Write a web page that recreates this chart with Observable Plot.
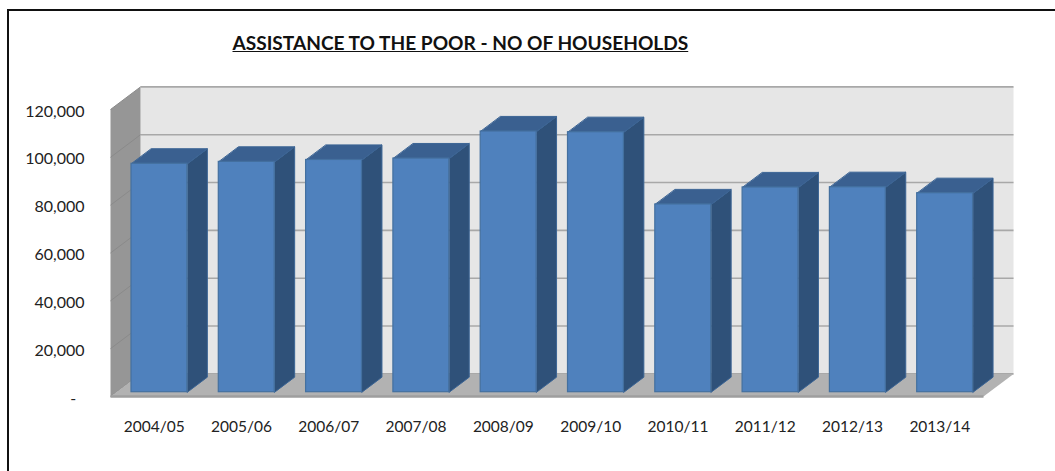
<!DOCTYPE html>
<html>
<head>
<meta charset="utf-8">
<script src="https://cdn.jsdelivr.net/npm/d3@7"></script>
<script src="https://cdn.jsdelivr.net/npm/@observablehq/plot@0.6"></script>
<style>
  html, body { margin: 0; padding: 0; background: #fff; overflow: hidden; }
  #page { position: relative; width: 1055px; height: 471px; overflow: hidden; font-family: Lato, sans-serif; }
  #border { position: absolute; left: 7px; top: 9px; width: 1060px; height: 480px;
            border-left: 2px solid #111; border-top: 2px solid #111; }
  #title { position: relative; height: 62px; box-sizing: border-box; padding: 32px 0 0 232.5px;
           font: bold 19.1px/22px Lato, sans-serif; color: #111; text-decoration: underline; white-space: pre; }
  #chart { position: relative; display: block; }
  #chart svg { display: block; overflow: visible; }
</style>
</head>
<body>
<div id="page">
  <div id="border"></div>
  <div id="title">ASSISTANCE TO THE POOR - NO OF HOUSEHOLDS</div>
  <div id="chart"></div>
</div>
<script>
// Households receiving assistance, by financial year
const years = ["2004/05", "2005/06", "2006/07", "2007/08", "2008/09", "2009/10", "2010/11", "2011/12", "2012/13", "2013/14"];
const households = [95500, 96300, 97100, 97700, 109000, 108700, 78500, 85600, 85700, 83200];
const gridValues = [0, 20000, 40000, 60000, 80000, 100000, 120000];

// Box proportions, in scale units: x in category slots, y in households
const wallDepthX = 0.344, wallDepthY = 9450;
const barDepthX = 0.229, barDepthY = 6300;
const barInset = 0.2405, barWidth = 0.64, barLift = 1800;
const slots = years.length, yMax = 120000;

// Closed outlines for the faces of the chart box
const leftWall = [[0, 0], [wallDepthX, wallDepthY], [wallDepthX, yMax + wallDepthY], [0, yMax]];
const backWall = [[wallDepthX, wallDepthY], [slots + wallDepthX, wallDepthY], [slots + wallDepthX, yMax + wallDepthY], [wallDepthX, yMax + wallDepthY]];
const floorFace = [[0, 0], [slots, 0], [slots + wallDepthX, wallDepthY], [wallDepthX, wallDepthY]];

// Each bar has a side and a top face, grouped by bar index
const barLeft = (i) => i + barInset;
const barRight = (i) => i + barInset + barWidth;
const barTop = (i) => households[i] + barLift;
const sideFaces = years.flatMap((_, i) => [
  [barRight(i), barLift], [barRight(i) + barDepthX, barLift + barDepthY],
  [barRight(i) + barDepthX, barTop(i) + barDepthY], [barRight(i), barTop(i)]
].map(([x, y]) => ({i, x, y})));
const topFaces = years.flatMap((_, i) => [
  [barLeft(i), barTop(i)], [barRight(i), barTop(i)],
  [barRight(i) + barDepthX, barTop(i) + barDepthY], [barLeft(i) + barDepthX, barTop(i) + barDepthY]
].map(([x, y]) => ({i, x, y})));

const face = (points, fill) =>
  Plot.line(points, {x: "0", y: "1", fill, stroke: "none", curve: "linear-closed"});
const prism = (points, fill) =>
  Plot.line(points, {x: "x", y: "y", z: "i", fill, stroke: "#3c6595", strokeWidth: 1, curve: "linear-closed"});

const chart = Plot.plot({
  width: 1055,
  height: 409,
  marginLeft: 110,
  marginRight: 72,
  marginTop: 47,
  marginBottom: 75,
  style: {background: "transparent", fontFamily: "Lato, sans-serif", color: "#222"},
  x: {type: "linear", domain: [0, slots]},
  y: {type: "linear", domain: [0, yMax]},
  marks: [
    face(backWall, "#e6e6e6"),
    face(leftWall, "#969696"),
    // gridlines across the back wall and down the left wall
    Plot.link(gridValues, {x1: wallDepthX, x2: slots + wallDepthX, y1: (d) => d + wallDepthY, y2: (d) => d + wallDepthY, stroke: "#a8a8a8", strokeWidth: 1.6}),
    Plot.link(gridValues, {x1: 0, x2: wallDepthX, y1: (d) => d, y2: (d) => d + wallDepthY, stroke: "#8a8a8a", strokeWidth: 1}),
    face(floorFace, "#b2b2b2"),
    Plot.link([0], {x1: 0, x2: slots, y1: 0, y2: 0, stroke: "#9e9e9e", strokeWidth: 2.5}),
    prism(sideFaces, "#2f5179"),
    prism(topFaces, "#3a6090"),
    Plot.rect(years, {
      x1: (_, i) => barLeft(i),
      x2: (_, i) => barRight(i),
      y1: barLift,
      y2: (_, i) => barTop(i),
      fill: "#4f81bd",
      stroke: "#44709f",
      strokeWidth: 1.2
    }),
    Plot.axisY(gridValues, {
      anchor: "left",
      label: null,
      fontSize: 16,
      tickSize: 0,
      tickPadding: 26,
      dy: 2,
      tickFormat: (d) => d === 0 ? "-\u00a0\u00a0" : d3.format(",")(d)
    }),
    Plot.axisX(years.map((_, i) => i + 0.5), {
      anchor: "bottom",
      label: null,
      fontSize: 15.5,
      tickSize: 0,
      tickPadding: 24,
      tickFormat: (d) => years[Math.floor(d)]
    })
  ]
});
document.getElementById("chart").appendChild(chart);
</script>
</body>
</html>
